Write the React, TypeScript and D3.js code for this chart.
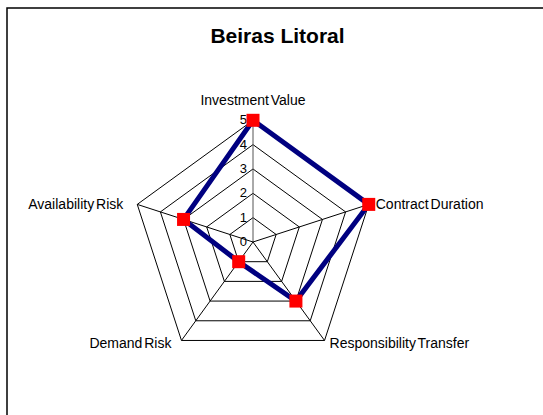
import React from 'react';
import * as d3 from 'd3';

const categories = ['Investment Value', 'Contract Duration', 'Responsibility Transfer', 'Demand Risk', 'Availability Risk'];
const values = [5, 5, 3, 1, 3];
const ticks = [0, 1, 2, 3, 4, 5];
const title = 'Beiras Litoral';

const W = 543, H = 415;
const cx = 253, cy = 242;
const R = 121.7;

const labelPos = [
  { dx: 0, dy: -15, anchor: 'middle' },
  { dx: 7, dy: 5, anchor: 'start' },
  { dx: 5, dy: 8, anchor: 'start' },
  { dx: -10, dy: 8, anchor: 'end' },
  { dx: -14, dy: 5, anchor: 'end' },
];

export default function App() {
  const r = d3.scaleLinear().domain([0, 5]).range([0, R]);
  const angle = (i: number) => (-90 + 72 * i) * Math.PI / 180;
  const pt = (i: number, v: number): [number, number] => [cx + r(v) * Math.cos(angle(i)), cy + r(v) * Math.sin(angle(i))];
  const line = d3.line<[number, number]>().curve(d3.curveLinearClosed);
  const font = '"Liberation Sans", Arial, sans-serif';

  return (
    <svg width={W} height={H} style={{ position: 'absolute', left: 0, top: 0, background: '#fff' }}>
      <rect x={7} y={8} width={560} height={440} fill="#fff" stroke="#000" strokeWidth={1.5} />
      <text x={277.5} y={42.5} textAnchor="middle" fontFamily={font} fontWeight="bold" fontSize={21}>{title}</text>
      {ticks.slice(1).map(t => (
        <path key={t} d={line(categories.map((_, i) => pt(i, t))) || ''} fill="none" stroke="#000" strokeWidth={1} />
      ))}
      {categories.map((_, i) => {
        const [x, y] = pt(i, 5);
        return <line key={i} x1={cx} y1={cy} x2={x} y2={y} stroke={i === 0 ? '#555' : '#000'} strokeWidth={1} />;
      })}
      {ticks.map(t => (
        <text key={t} x={cx - 6} y={cy - r(t) + 4} textAnchor="end" fontFamily={font} fontSize={13}>{t}</text>
      ))}
      <path d={line(values.map((v, i) => pt(i, v))) || ''} fill="none" stroke="#000080" strokeWidth={5} strokeLinejoin="miter" />
      {values.map((v, i) => {
        const [x, y] = pt(i, v);
        return <rect key={i} x={x - 6.5} y={y - 6.5} width={13} height={13} fill="#ff0000" />;
      })}
      {categories.map((c, i) => {
        const [x, y] = pt(i, 5);
        const p = labelPos[i];
        return (
          <text key={c} x={x + p.dx} y={y + p.dy} textAnchor={p.anchor as any} fontFamily={font} fontSize={14} wordSpacing={-2}>{c}</text>
        );
      })}
    </svg>
  );
}
